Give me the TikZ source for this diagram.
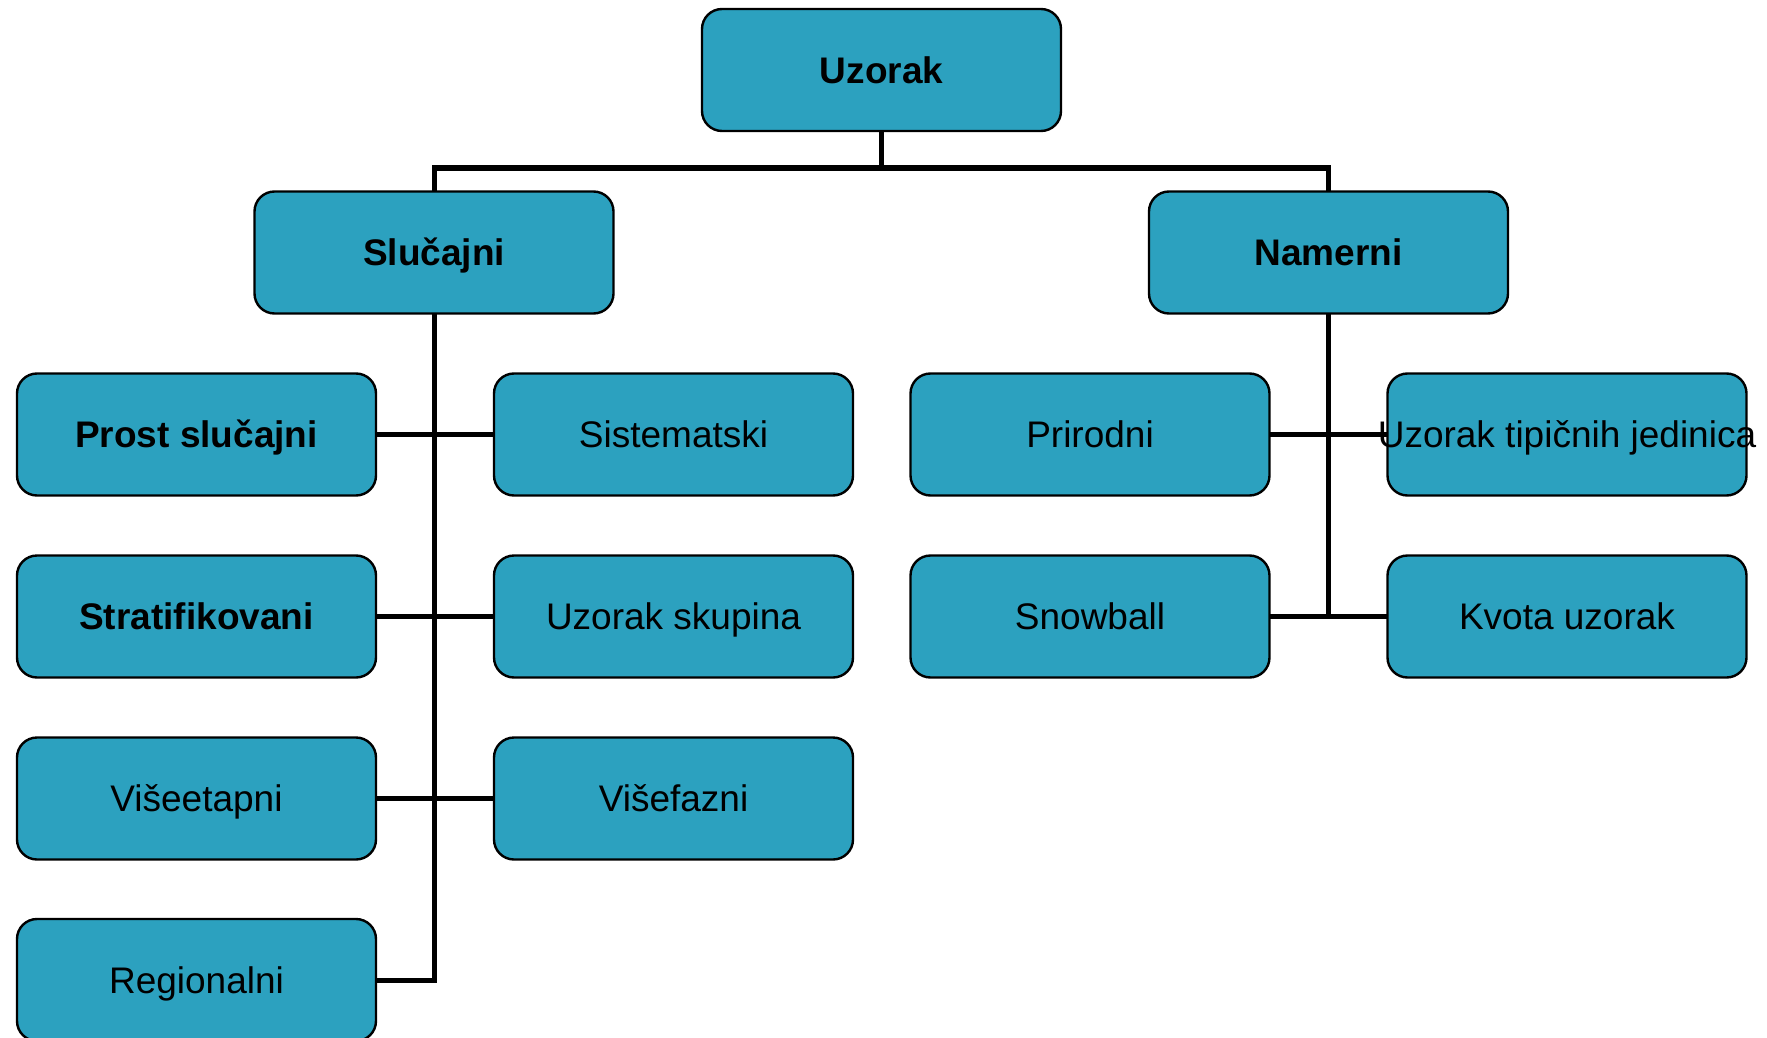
\documentclass[tikz,border=0pt]{standalone}
\usepackage{fontspec}
\setmainfont{Liberation Sans}
\usetikzlibrary{backgrounds}
\definecolor{boxfill}{RGB}{44,161,191}
\begin{document}
\begin{tikzpicture}[x=0.5pt,y=-0.5pt,
  box/.style={draw=black, line width=1.2pt, fill=boxfill, rounded corners=10pt,
    minimum width=179.5pt, minimum height=61pt, inner sep=0pt, outer sep=0pt,
    text height=13.25pt, text depth=0pt,
    font=\fontsize{18.5}{22}\selectfont, text=black},
  bbox/.style={box, font=\fontsize{18.5}{22}\selectfont\bfseries},
  conn/.style={line width=2.5pt, draw=black}]
\useasboundingbox (0,0) rectangle (1767,1038);
\clip (0,0) rectangle (1767,1038);
% top levels
\node[bbox] (uz) at (881.5,70) {Uzorak};
\node[bbox] (sl) at (434,252.5) {Slučajni};
\node[bbox] (na) at (1328.5,252.5) {Namerni};
% Slucajni children
\node[bbox] (ps) at (196.5,434.5) {Prost slučajni};
\node[box]  (si) at (673.5,434.5) {Sistematski};
\node[bbox] (st) at (196.5,616.5) {Stratifikovani};
\node[box]  (us) at (673.5,616.5) {Uzorak skupina};
\node[box]  (ve) at (196.5,798.5) {Višeetapni};
\node[box]  (vf) at (673.5,798.5) {Višefazni};
\node[box]  (re) at (196.5,980) {Regionalni};
% Namerni children
\node[box]  (pr) at (1090,434.5) {Prirodni};
\node[box]  (ut) at (1567,434.5) {\makebox[0pt][c]{Uzorak tipičnih jedinica}};
\node[box]  (sn) at (1090,616.5) {Snowball};
\node[box]  (kv) at (1567,616.5) {Kvota uzorak};
\coordinate (bus) at (881.5,168);
\begin{scope}[on background layer]
  \draw[conn] (uz.south) -- (bus);
  \draw[conn] (sl.north) |- (bus) -| (na.north);
  \draw[conn] (sl.south) |- (re.east);
  \draw[conn] (ps.east) -- (si.west);
  \draw[conn] (st.east) -- (us.west);
  \draw[conn] (ve.east) -- (vf.west);
  \draw[conn] (na.south) |- (kv.west);
  \draw[conn] (sn.east) -- (kv.west);
  \draw[conn] (pr.east) -- (ut.west);
\end{scope}
\end{tikzpicture}
\end{document}
